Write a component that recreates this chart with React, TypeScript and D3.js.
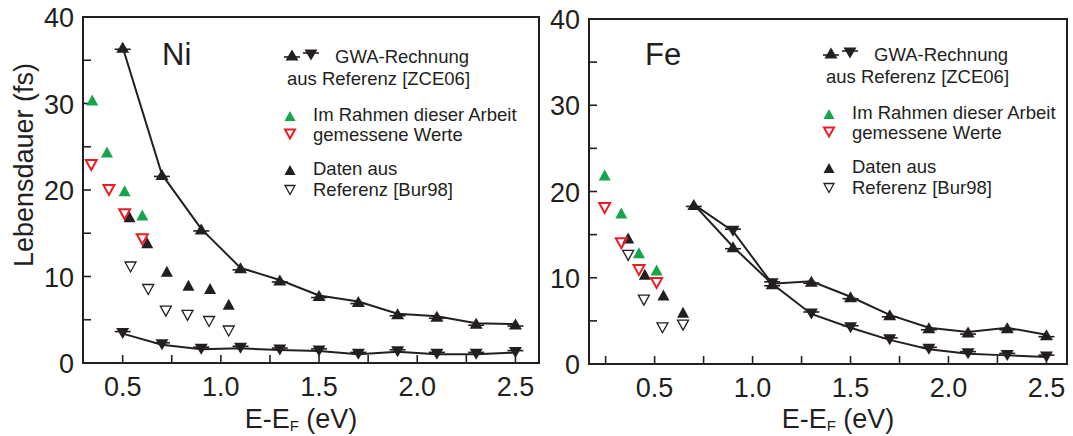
import React from "react";
import * as d3 from "d3";

// ---- Ni data (lifetimes in fs vs. E-E_F in eV) ----
const niGwaX = [0.5, 0.7, 0.9, 1.1, 1.3, 1.5, 1.7, 1.9, 2.1, 2.3, 2.5];
const niGwaUp = [36.5, 21.8, 15.5, 11.0, 9.6, 7.8, 7.1, 5.7, 5.4, 4.6, 4.5];
const niGwaDown = [3.4, 2.1, 1.6, 1.7, 1.5, 1.4, 1.0, 1.3, 1.0, 1.0, 1.2];
const niOwnUpX = [0.345, 0.42, 0.51, 0.6];
const niOwnUp = [30.4, 24.4, 19.9, 17.1];
const niOwnDownX = [0.34, 0.43, 0.51, 0.6];
const niOwnDown = [22.9, 20.0, 17.2, 14.3];
const niBurUpX = [0.535, 0.625, 0.725, 0.835, 0.945, 1.04];
const niBurUp = [16.9, 13.9, 10.6, 9.0, 8.6, 6.8];
const niBurDownX = [0.54, 0.63, 0.72, 0.83, 0.94, 1.04];
const niBurDown = [11.1, 8.5, 6.0, 5.5, 4.8, 3.7];

// ---- Fe data ----
const feGwaX = [0.7, 0.9, 1.1, 1.3, 1.5, 1.7, 1.9, 2.1, 2.3, 2.5];
const feGwaUp = [18.5, 13.6, 9.3, 9.6, 7.8, 5.7, 4.2, 3.7, 4.2, 3.4];
const feGwaDown = [18.5, 15.4, 9.3, 5.8, 4.2, 2.8, 1.7, 1.2, 1.0, 0.8];
const feOwnUpX = [0.245, 0.33, 0.42, 0.51];
const feOwnUp = [21.9, 17.5, 12.9, 10.9];
const feOwnDownX = [0.245, 0.33, 0.42, 0.51];
const feOwnDown = [18.1, 14.0, 10.9, 9.4];
const feBurUpX = [0.365, 0.45, 0.545, 0.645];
const feBurUp = [14.6, 10.4, 8.0, 6.0];
const feBurDownX = [0.365, 0.445, 0.54, 0.645];
const feBurDown = [12.6, 7.4, 4.2, 4.5];

// ---- axes ----
const yTicks = [0, 5, 10, 15, 20, 25, 30, 35, 40];
const yTickLabels = ["0", "10", "20", "30", "40"];
const xTicks = [0.25, 0.5, 0.75, 1.0, 1.25, 1.5, 1.75, 2.0, 2.25, 2.5];
const xTickLabels = ["0.5", "1.0", "1.5", "2.0", "2.5"];

const legendLines = [
  "GWA-Rechnung",
  "aus Referenz [ZCE06]",
  "Im Rahmen dieser Arbeit",
  "gemessene Werte",
  "Daten aus",
  "Referenz [Bur98]",
];

const FONT = "'Liberation Sans', Arial, Helvetica, sans-serif";
const INK = "#231f20";
const GREEN = "#17a54b";
const RED = "#ed1c24";

// triangle path with its bounding box centred on (cx, cy)
function tri(cx: number, cy: number, w: number, h: number, up: boolean) {
  const t = cy - h / 2;
  const b = cy + h / 2;
  return up
    ? `M${cx},${t}L${cx + w / 2},${b}L${cx - w / 2},${b}Z`
    : `M${cx},${b}L${cx + w / 2},${t}L${cx - w / 2},${t}Z`;
}

function GwaMarker({ x, y, up }: { x: number; y: number; up: boolean }) {
  const by = up ? y + 2 : y - 2;
  return (
    <g>
      <path d={tri(x, y, 13, 11, up)} fill={INK} />
      <line x1={x - 8} x2={x + 8} y1={by} y2={by} stroke={INK} strokeWidth={1.6} />
    </g>
  );
}

type PanelProps = {
  left: number;
  top: number;
  right: number;
  bottom: number;
  xDomain: [number, number];
  label: string;
  labelX: number;
  titleX: number;
  legendX: number;
  legendDY: number;
  gwaX: number[];
  gwaUp: number[];
  gwaDown: number[];
  downMarkerFrom: number;
  ownUpX: number[];
  ownUp: number[];
  ownDownX: number[];
  ownDown: number[];
  burUpX: number[];
  burUp: number[];
  burDownX: number[];
  burDown: number[];
};

function Panel(p: PanelProps) {
  const x = d3.scaleLinear().domain(p.xDomain).range([p.left, p.right]);
  const y = d3.scaleLinear().domain([0, 40]).range([p.bottom, p.top]);
  const line = d3
    .line<[number, number]>()
    .x((d) => x(d[0]))
    .y((d) => y(d[1]));
  const upPts = p.gwaX.map((v, i) => [v, p.gwaUp[i]] as [number, number]);
  const downPts = p.gwaX.map((v, i) => [v, p.gwaDown[i]] as [number, number]);
  const lx = p.legendX;
  const dy = p.legendDY;
  const tx = lx + 26;

  return (
    <g fontFamily={FONT} fill={INK}>
      {/* frame */}
      <rect
        x={p.left}
        y={p.top}
        width={p.right - p.left}
        height={p.bottom - p.top}
        fill="none"
        stroke={INK}
        strokeWidth={2}
      />
      {/* y ticks */}
      {yTicks
        .filter((t) => t > 0 && t < 40)
        .map((t) => (
          <line key={"yt" + t} x1={p.left} x2={p.left + 8} y1={y(t)} y2={y(t)} stroke={INK} strokeWidth={1.6} />
        ))}
      {yTickLabels.map((s) => (
        <text key={"yl" + s} x={p.left - 9} y={y(+s) + 10} fontSize={27} textAnchor="end">
          {s}
        </text>
      ))}
      {/* x ticks */}
      {xTicks
        .filter((t) => x(t) > p.left + 2 && x(t) < p.right - 2)
        .map((t) => (
          <line key={"xt" + t} x1={x(t)} x2={x(t)} y1={p.bottom} y2={p.bottom - 8} stroke={INK} strokeWidth={1.6} />
        ))}
      {xTickLabels.map((s) => (
        <text key={"xl" + s} x={x(+s)} y={p.bottom + 33} fontSize={27} textAnchor="middle">
          {s}
        </text>
      ))}
      {/* x title */}
      <text x={p.titleX} y={428} fontSize={27} textAnchor="middle">
        E-E
        <tspan fontSize={15} dy={3}>
          F
        </tspan>
        <tspan dy={-3}> (eV)</tspan>
      </text>
      {/* element label */}
      <text x={p.labelX} y={65} fontSize={31}>
        {p.label}
      </text>

      {/* GWA curves */}
      <path d={line(downPts) || ""} fill="none" stroke={INK} strokeWidth={2} />
      <path d={line(upPts) || ""} fill="none" stroke={INK} strokeWidth={2} />
      {downPts.map((d, i) =>
        i >= p.downMarkerFrom ? <GwaMarker key={"gd" + i} x={x(d[0])} y={y(d[1])} up={false} /> : null
      )}
      {upPts.map((d, i) => (
        <GwaMarker key={"gu" + i} x={x(d[0])} y={y(d[1])} up={true} />
      ))}

      {/* Burgermeister data */}
      {p.burDownX.map((v, i) => (
        <path key={"bd" + i} d={tri(x(v), y(p.burDown[i]), 11, 10, false)} fill="#fff" stroke={INK} strokeWidth={1.3} />
      ))}
      {p.burUpX.map((v, i) => (
        <path key={"bu" + i} d={tri(x(v), y(p.burUp[i]), 12, 11, true)} fill={INK} />
      ))}
      {/* own measurements */}
      {p.ownDownX.map((v, i) => (
        <path key={"od" + i} d={tri(x(v), y(p.ownDown[i]), 11, 10, false)} fill="none" stroke={RED} strokeWidth={2} />
      ))}
      {p.ownUpX.map((v, i) => (
        <path key={"ou" + i} d={tri(x(v), y(p.ownUp[i]), 12, 11, true)} fill={GREEN} />
      ))}

      {/* legend */}
      <GwaMarker x={lx + 5} y={55 + dy} up={true} />
      <GwaMarker x={lx + 24} y={55 + dy} up={false} />
      <text x={lx + 48} y={63 + dy} fontSize={18.5}>
        {legendLines[0]}
      </text>
      <text x={lx} y={85 + dy} fontSize={18.5}>
        {legendLines[1]}
      </text>
      <path d={tri(lx + 3, 116 + dy, 11, 10, true)} fill={GREEN} />
      <text x={tx} y={121 + dy} fontSize={18.5}>
        {legendLines[2]}
      </text>
      <path d={tri(lx + 3, 134 + dy, 10, 9, false)} fill="none" stroke={RED} strokeWidth={2} />
      <text x={tx} y={141 + dy} fontSize={18.5}>
        {legendLines[3]}
      </text>
      <path d={tri(lx + 3, 170 + dy, 11, 10, true)} fill={INK} />
      <text x={tx} y={175 + dy} fontSize={18.5}>
        {legendLines[4]}
      </text>
      <path d={tri(lx + 3, 190 + dy, 10, 9, false)} fill="#fff" stroke={INK} strokeWidth={1.3} />
      <text x={tx} y={196 + dy} fontSize={18.5}>
        {legendLines[5]}
      </text>
    </g>
  );
}

export default function App() {
  return (
    <svg
      width={1073}
      height={436}
      viewBox="0 0 1073 436"
      style={{ position: "absolute", left: 0, top: 0, background: "#fff" }}
    >
      <rect width={1073} height={436} fill="#fff" />
      <text
        transform="translate(33,165) rotate(-90)"
        fontFamily={FONT}
        fontSize={27}
        textAnchor="middle"
        fill={INK}
      >
        Lebensdauer (fs)
      </text>
      <Panel
        left={83}
        top={17}
        right={539}
        bottom={363}
        xDomain={[0.298, 2.62]}
        label="Ni"
        labelX={162}
        titleX={301}
        legendX={287}
        legendDY={0}
        gwaX={niGwaX}
        gwaUp={niGwaUp}
        gwaDown={niGwaDown}
        downMarkerFrom={0}
        ownUpX={niOwnUpX}
        ownUp={niOwnUp}
        ownDownX={niOwnDownX}
        ownDown={niOwnDown}
        burUpX={niBurUpX}
        burUp={niBurUp}
        burDownX={niBurDownX}
        burDown={niBurDown}
      />
      <Panel
        left={589}
        top={19}
        right={1067}
        bottom={364}
        xDomain={[0.165, 2.605]}
        label="Fe"
        labelX={645}
        titleX={838}
        legendX={826}
        legendDY={-2}
        gwaX={feGwaX}
        gwaUp={feGwaUp}
        gwaDown={feGwaDown}
        downMarkerFrom={1}
        ownUpX={feOwnUpX}
        ownUp={feOwnUp}
        ownDownX={feOwnDownX}
        ownDown={feOwnDown}
        burUpX={feBurUpX}
        burUp={feBurUp}
        burDownX={feBurDownX}
        burDown={feBurDown}
      />
    </svg>
  );
}
